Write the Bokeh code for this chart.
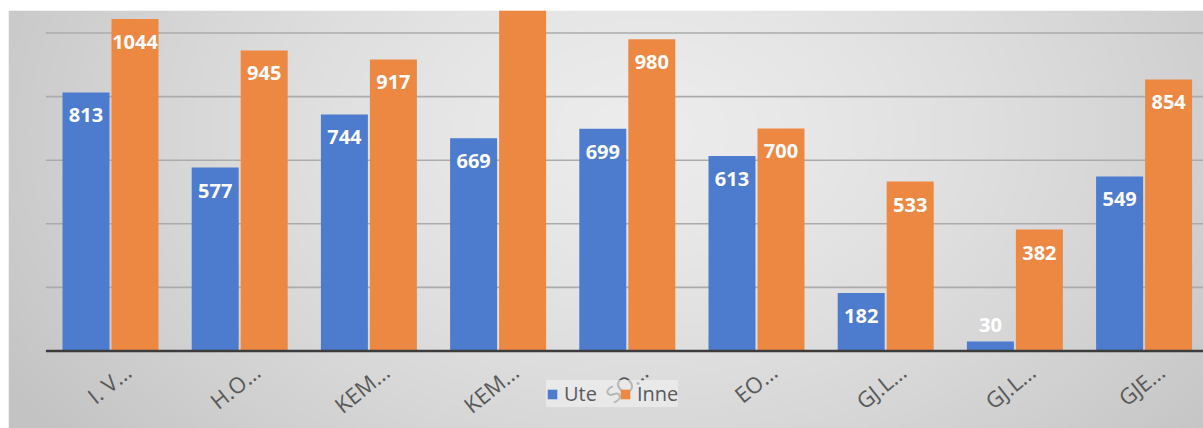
import numpy as np
from bokeh.plotting import figure
from bokeh.models import Range1d, Legend, LegendItem
from bokeh.core.properties import value
from bokeh.embed import file_html
from bokeh.resources import INLINE

# ---- data ----
categories = ["I. V...", "H.O...", "KEM...", "KEM...", "SO...", "EO...", "GJ.L...", "GJ.L...", "GJE..."]
ute = [813, 577, 744, 669, 699, 613, 182, 30, 549]
inne = [1044, 945, 917, 1200, 980, 700, 533, 382, 854]
grid_values = [200, 400, 600, 800, 1000]

BLUE = "#4d7bcd"
ORANGE = "#ed8842"

# ---- geometry (page-pixel calibration) ----
px_per_cat = 129.2
px_per_unit = 0.318
x0_page, base_page = 110.0, 350.5
W, H = 1203, 428
left_border, top_border = 8, 10
x_start = (left_border - x0_page) / px_per_cat
x_end = (W - x0_page) / px_per_cat
y_top = (base_page - top_border) / px_per_unit
y_bot = (base_page - H) / px_per_unit

p = figure(width=W, height=H, output_backend="svg", toolbar_location=None,
           x_range=Range1d(x_start, x_end), y_range=Range1d(y_bot, y_top),
           min_border_left=left_border, min_border_right=0, min_border_bottom=0,
           min_border_top=top_border)
p.border_fill_color = "white"
p.outline_line_color = None
p.xaxis.visible = False
p.yaxis.visible = False
p.xgrid.visible = False
p.ygrid.visible = False

# ---- background gradient ----
fh, fw = (H - top_border) // 2, (W - left_border) // 2
yy, xx = np.mgrid[0:fh, 0:fw]
page_x = left_border + xx * 2.0
page_y = top_border + yy * 2.0
r = np.sqrt(((page_x - 640) / 640) ** 2 + ((page_y - 130) / 430) ** 2)
g = np.clip(236 - 33 * r ** 1.4, 195, 240).astype(np.uint32)
img = (255 << 24) | (g << 16) | (g << 8) | g
img = np.flipud(img).astype(np.uint32)
p.image_rgba(image=[img], x=x_start, y=y_bot, dw=x_end - x_start, dh=y_top - y_bot)

# ---- gridlines ----
n = len(categories)
p.segment(x0=[-0.5] * len(grid_values), x1=[x_end] * len(grid_values),
          y0=grid_values, y1=grid_values, line_color="#ababab", line_width=1.6)

# ---- bars ----
idx = np.arange(n)
off = 24.5 / px_per_cat
bw = 47 / px_per_cat
rb = p.vbar(x=idx - off, top=ute, width=bw, bottom=0, fill_color=BLUE, line_color=None)
ro = p.vbar(x=idx + off, top=inne, width=bw, bottom=0, fill_color=ORANGE, line_color=None)

# baseline
p.segment(x0=[-0.5], x1=[x_end], y0=[0], y1=[0], line_color="#3c3c3c", line_width=2.5)

# ---- data labels ----
lx, ly, lt = [], [], []
for xs, vals in ((idx - off, ute), (idx + off, inne)):
    for x, v in zip(xs, vals):
        yv = v - 23 / px_per_unit if v > 100 else v + 16 / px_per_unit
        if yv + 10 / px_per_unit < y_top:
            lx.append(x); ly.append(yv); lt.append(str(v))
p.text(x=lx, y=ly, text=lt, text_align="center", text_baseline="middle",
       text_color="white", text_font=value("Open Sans"), text_font_size="20px",
       text_font_style="bold")

# ---- category labels (rotated) ----
p.text(x=idx + 17 / px_per_cat, y=[-17 / px_per_unit] * n, text=categories,
       angle=0.68, text_align="right", text_baseline="middle",
       text_color="#595959", text_font=value("Open Sans"), text_font_size="22px")

# ---- legend ----
legend = Legend(items=[LegendItem(label="Ute", renderers=[rb]),
                       LegendItem(label="Inne", renderers=[ro])],
                orientation="horizontal", location=(538, 21),
                label_text_font="Open Sans", label_text_font_size="20px",
                label_text_color="#595959", glyph_width=12, glyph_height=12,
                label_standoff=6, spacing=22, padding=10, margin=0,
                background_fill_color="#f2f2f2", background_fill_alpha=0.6,
                border_line_color=None)
p.add_layout(legend, "center")

open("out.html", "w").write(file_html(p, INLINE))
